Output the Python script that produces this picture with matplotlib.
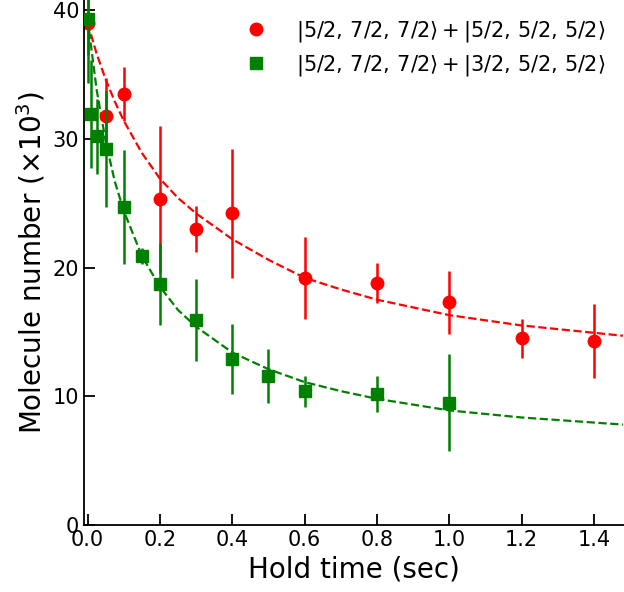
import matplotlib
matplotlib.use("Agg")
import matplotlib.pyplot as plt

# Red data: |5/2,7/2,7/2> + |5/2,5/2,5/2>
t_red = [0.0, 0.05, 0.1, 0.2, 0.3, 0.4, 0.6, 0.8, 1.0, 1.2, 1.4]
n_red = [39.0, 31.8, 33.5, 25.3, 23.0, 24.2, 19.2, 18.8, 17.3, 14.5, 14.3]
e_red = [2.5, 2.9, 2.1, 5.7, 1.8, 5.0, 3.2, 1.55, 2.45, 1.5, 2.9]

# Green data: |5/2,7/2,7/2> + |3/2,5/2,5/2>
t_grn = [0.0, 0.01, 0.025, 0.05, 0.1, 0.15, 0.2, 0.3, 0.4, 0.5, 0.6, 0.8, 1.0]
n_grn = [39.3, 31.9, 30.2, 29.2, 24.7, 20.9, 18.7, 15.9, 12.9, 11.55, 10.4, 10.2, 9.5]
e_grn = [5.0, 4.2, 2.9, 4.5, 4.4, 0.6, 3.2, 3.2, 2.75, 2.1, 1.2, 1.4, 3.75]

# Fit curves
t_fit = [0.0, 0.025, 0.05, 0.075, 0.1, 0.15, 0.2, 0.25, 0.3, 0.4, 0.5, 0.6, 0.7, 0.8, 1.0, 1.2, 1.48]
fit_red = [39.0, 36.6, 34.6, 32.9, 31.4, 28.9, 26.9, 25.4, 24.2, 22.2, 20.6, 19.2, 18.3, 17.5, 16.3, 15.5, 14.7]
fit_grn = [39.3, 33.8, 29.8, 26.7, 24.4, 20.9, 18.5, 16.7, 15.4, 13.4, 12.1, 11.1, 10.4, 9.8, 8.9, 8.35, 7.8]

label_red = r"$|5/2,\, 7/2,\, 7/2\rangle + |5/2,\, 5/2,\, 5/2\rangle$"
label_grn = r"$|5/2,\, 7/2,\, 7/2\rangle + |3/2,\, 5/2,\, 5/2\rangle$"

fig = plt.figure(figsize=(6.24, 5.92), dpi=100)
ax = fig.add_axes([0.1346, 0.1132, 0.8654, 0.8868])

ax.plot(t_fit, fit_red, '--', color='red', lw=1.6, zorder=1)
ax.plot(t_fit, fit_grn, '--', color='green', lw=1.6, zorder=1)

ax.errorbar(t_red, n_red, yerr=e_red, fmt='o', color='red', ms=9,
            elinewidth=1.8, capsize=0, label=label_red, zorder=2)
ax.errorbar(t_grn, n_grn, yerr=e_grn, fmt='s', color='green', ms=9,
            elinewidth=1.8, capsize=0, label=label_grn, zorder=3)

ax.set_xlim(-0.01, 1.483)
ax.set_ylim(0, 40.78)
ax.set_xticks([0.0, 0.2, 0.4, 0.6, 0.8, 1.0, 1.2, 1.4])
ax.set_xticklabels(['0.0', '0.2', '0.4', '0.6', '0.8', '1.0', '1.2', '1.4'])
ax.set_yticks([0, 10, 20, 30, 40])

ax.spines['top'].set_visible(False)
ax.spines['right'].set_visible(False)
ax.spines['left'].set_linewidth(1.3)
ax.spines['bottom'].set_linewidth(1.3)
ax.tick_params(direction='in', length=8, width=1.3, labelsize=15,
               top=False, right=False)

ax.set_xlabel('Hold time (sec)', fontsize=20)
ax.set_ylabel(r'Molecule number ($\times 10^3$)', fontsize=20)

handles, labels = ax.get_legend_handles_labels()
hs = [h[0] for h in handles]
ax.legend(hs, labels, loc='upper right', frameon=False, fontsize=15,
          numpoints=1, handletextpad=0.9, borderaxespad=0.5, labelspacing=0.45)

fig.savefig('out.png', dpi=100)
